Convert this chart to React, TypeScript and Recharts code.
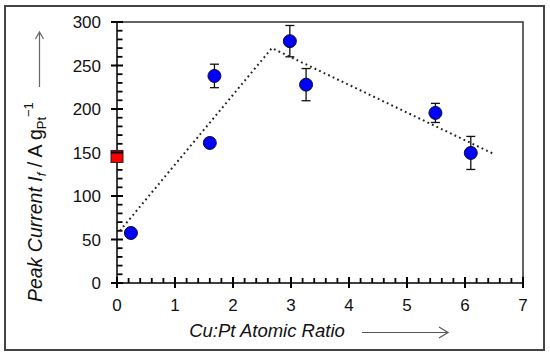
import React from 'react';
import { ScatterChart, Scatter, XAxis, YAxis, ErrorBar, ReferenceArea } from 'recharts';

// Cu:Pt atomic ratio vs peak current (blue = alloys, red = pure Pt reference)
const ratio = [0.24, 1.6, 1.68, 2.98, 3.26, 5.49, 6.1];
const current = [57.5, 161, 238, 278, 228, 195.5, 149.5];
const currentErr = [3, 3, 13.5, 18, 18.5, 11, 19];

const ptRatio = [0];
const ptCurrent = [145.5];

// dotted guide line
const trendRatio = [0.05, 2.67, 6.49];
const trendCurrent = [60, 270, 148.5];

const xMajor = [0, 1, 2, 3, 4, 5, 6, 7];
const yMajor = [0, 50, 100, 150, 200, 250, 300];

const alloyData = ratio.map((x, i) => ({ x, y: current[i], err: currentErr[i] }));
const ptData = ptRatio.map((x, i) => ({ x, y: ptCurrent[i] }));
const trendData = trendRatio.map((x, i) => ({ x, y: trendCurrent[i] }));

// minor ticks: 4 between each pair of majors
const minorOf = (major: number[]) => {
    const out: number[] = [];
    major.slice(0, -1).forEach((t, i) => {
        const step = (major[i + 1] - t) / 5;
        for (let k = 1; k < 5; k++) out.push(Math.round((t + k * step) * 1000) / 1000);
    });
    return out;
};
const xMinor = minorOf(xMajor);
const yMinor = minorOf(yMajor);

// minor tick marks drawn as tiny scatter glyphs sitting on the axes
const xMinorMarks = xMinor.map((x) => ({ x, y: 0 }));
const yMinorMarks = yMinor.map((y) => ({ x: 0, y }));

const FONT = '"Liberation Sans", Arial, Helvetica, sans-serif';
const INK = '#000';

// major tick: line crossing the axis + label
const XLabel = (props: any) => {
    const x = Number(props.x);
    const y = Number(props.y);
    return (
        <g>
            <line x1={x} x2={x} y1={y - 6} y2={y + 5} stroke={INK} strokeWidth={2} />
            <text x={x} y={y + 28} textAnchor="middle" fontSize={17} fontFamily={FONT} fill="#111">
                {props.payload.value}
            </text>
        </g>
    );
};

const YLabel = (props: any) => {
    const x = Number(props.x);
    const y = Number(props.y);
    return (
        <g>
            <line x1={x - 6} x2={x + 6} y1={y} y2={y} stroke={INK} strokeWidth={2} />
            <text x={x - 16} y={y} dy="0.36em" textAnchor="end" fontSize={17} fontFamily={FONT} fill="#111">
                {props.payload.value}
            </text>
        </g>
    );
};

const XMinorMark = (p: any) => <line x1={p.cx} x2={p.cx} y1={p.cy} y2={p.cy - 5} stroke={INK} strokeWidth={1.8} />;
const YMinorMark = (p: any) => <line x1={p.cx} x2={p.cx + 5.5} y1={p.cy} y2={p.cy} stroke={INK} strokeWidth={1.8} />;

const Dot = (props: any) => (
    <circle cx={props.cx} cy={props.cy} r={6.5} fill="#0000ff" stroke="#111" strokeWidth={1} />
);

const Square = (props: any) => (
    <rect x={props.cx - 6} y={props.cy - 6} width={12} height={12} fill="#ff0000" stroke="#222" strokeWidth={1} />
);

const App: React.FC = () => {
    return (
        <div style={{ position: 'absolute', left: 0, top: 0, width: 550, height: 357 }}>
            <div style={{ position: 'absolute', left: 4, top: 5, width: 541, height: 346, border: '2px solid #444', boxSizing: 'border-box' }} />
            <svg width={550} height={357} style={{ position: 'absolute', left: 0, top: 0 }}>
                <text transform="translate(42,302) rotate(-90)" fontSize={19.5} fontFamily={FONT} fill="#111">
                    <tspan fontStyle="italic">Peak Current I</tspan>
                    <tspan fontStyle="italic" fontSize={13} dy={4}>f</tspan>
                    <tspan dy={-4}> / A g</tspan>
                    <tspan fontSize={13} dy={4}>Pt</tspan>
                    <tspan fontSize={13} dy={-13}>−1</tspan>
                </text>
                <path d="M39.5,87 L39.5,32 M35.5,39 L39.5,32 L43.5,39" stroke="#666" strokeWidth={1.2} fill="none" />
                <text x={267} y={337} textAnchor="middle" fontSize={18.5} fontStyle="italic" fontFamily={FONT} fill="#111">
                    Cu:Pt Atomic Ratio
                </text>
                <path d="M362,332.5 L448,332.5 M439,327 L448,332.5 L439,338" stroke="#555" strokeWidth={1.2} fill="none" />
            </svg>
            <div style={{ position: 'absolute', left: 0, top: 0 }}>
                <ScatterChart width={550} height={357} margin={{ top: 22, right: 27, left: 57, bottom: 44 }}>
                    <ReferenceArea x1={0} x2={7} y1={0} y2={300} fill="none" stroke="#333" strokeWidth={1.5} />
                    <XAxis
                        type="number"
                        dataKey="x"
                        domain={[0, 7]}
                        ticks={xMajor}
                        interval={0}
                        height={30}
                        tick={(p: any) => <XLabel {...p} />}
                        tickLine={false}
                        tickSize={0}
                        tickMargin={0}
                        axisLine={{ stroke: '#333', strokeWidth: 1.5 }}
                    />
                    <YAxis
                        type="number"
                        dataKey="y"
                        domain={[0, 300]}
                        ticks={yMajor}
                        interval={0}
                        width={60}
                        tick={(p: any) => <YLabel {...p} />}
                        tickLine={false}
                        tickSize={0}
                        tickMargin={0}
                        axisLine={{ stroke: '#333', strokeWidth: 1.5 }}
                    />
                    <Scatter data={xMinorMarks} isAnimationActive={false} shape={(p: any) => <XMinorMark {...p} />} />
                    <Scatter data={yMinorMarks} isAnimationActive={false} shape={(p: any) => <YMinorMark {...p} />} />
                    <Scatter
                        data={trendData}
                        isAnimationActive={false}
                        line={{ stroke: '#222', strokeWidth: 2, strokeDasharray: '1.8 3.2' }}
                        shape={() => <g />}
                    />
                    <Scatter data={alloyData} isAnimationActive={false} shape={<Dot />}>
                        <ErrorBar dataKey="err" direction="y" width={4.5} stroke="#111" strokeWidth={1.3} />
                    </Scatter>
                    <Scatter data={ptData} isAnimationActive={false} shape={<Square />} />
                </ScatterChart>
            </div>
        </div>
    );
};

export default App;
